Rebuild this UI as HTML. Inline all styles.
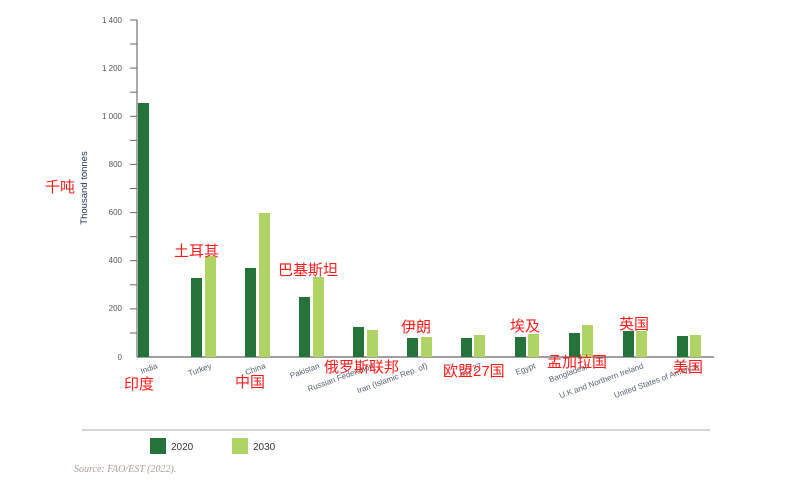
<!DOCTYPE html>
<html><head><meta charset="utf-8"><style>
body{margin:0;background:#fff}
svg{display:block}
</style></head><body>
<svg width="794" height="489" viewBox="0 0 794 489" xmlns="http://www.w3.org/2000/svg" font-family="Liberation Sans, sans-serif">
<line x1="137" y1="20" x2="137" y2="357" stroke="#555" stroke-width="1"/>
<line x1="137" y1="357" x2="714" y2="357" stroke="#666" stroke-width="1.3"/>
<g stroke="#666" stroke-width="1">
<line x1="130" y1="20" x2="137" y2="20"/><line x1="130" y1="44" x2="137" y2="44"/>
<line x1="130" y1="68.1" x2="137" y2="68.1"/><line x1="130" y1="92.2" x2="137" y2="92.2"/>
<line x1="130" y1="116.3" x2="137" y2="116.3"/><line x1="130" y1="140.4" x2="137" y2="140.4"/>
<line x1="130" y1="164.4" x2="137" y2="164.4"/><line x1="130" y1="188.5" x2="137" y2="188.5"/>
<line x1="130" y1="212.6" x2="137" y2="212.6"/><line x1="130" y1="236.7" x2="137" y2="236.7"/>
<line x1="130" y1="260.7" x2="137" y2="260.7"/><line x1="130" y1="284.8" x2="137" y2="284.8"/>
<line x1="130" y1="308.9" x2="137" y2="308.9"/><line x1="130" y1="333" x2="137" y2="333"/>
</g>
<g font-size="8" fill="#555" text-anchor="end">
<text x="122" y="23">1 400</text><text x="122" y="71">1 200</text><text x="122" y="119">1 000</text>
<text x="122" y="167">800</text><text x="122" y="215">600</text><text x="122" y="263">400</text>
<text x="122" y="311">200</text><text x="122" y="360">0</text>
</g>
<text transform="translate(87,188) rotate(-90)" font-size="9.5" fill="#1f2d4d" text-anchor="middle">Thousand tonnes</text>
<g fill="#24733a">
<rect x="138" y="103" width="11" height="254"/>
<rect x="191" y="278" width="11" height="79"/>
<rect x="245" y="268" width="11" height="89"/>
<rect x="299" y="297" width="11" height="60"/>
<rect x="353" y="327" width="11" height="30"/>
<rect x="407" y="338" width="11" height="19"/>
<rect x="461" y="338" width="11" height="19"/>
<rect x="515" y="337" width="11" height="20"/>
<rect x="569" y="333" width="11" height="24"/>
<rect x="623" y="331" width="11" height="26"/>
<rect x="677" y="336" width="11" height="21"/>
</g>
<g fill="#b0d365">
<rect x="205" y="256" width="11" height="101"/>
<rect x="259" y="213" width="11" height="144"/>
<rect x="313" y="277" width="11" height="80"/>
<rect x="367" y="330" width="11" height="27"/>
<rect x="421" y="337" width="11" height="20"/>
<rect x="474" y="335" width="11" height="22"/>
<rect x="528" y="334" width="11" height="23"/>
<rect x="582" y="325" width="11" height="32"/>
<rect x="636" y="331" width="11" height="26"/>
<rect x="690" y="335" width="11" height="22"/>
</g>
<g font-size="8" fill="#556070" text-anchor="end">
<text transform="translate(158,368) rotate(-20)">India</text>
<text transform="translate(212,368) rotate(-20)">Turkey</text>
<text transform="translate(266,368) rotate(-20)">China</text>
<text transform="translate(320,368) rotate(-20)">Pakistan</text>
<text transform="translate(374,368) rotate(-20)">Russian Federation</text>
<text transform="translate(428,368) rotate(-20)">Iran  (Islamic Rep. of)</text>
<text transform="translate(482,368) rotate(-20)">EU 27</text>
<text transform="translate(536,368) rotate(-20)">Egypt</text>
<text transform="translate(590,368) rotate(-20)">Bangladesh</text>
<text transform="translate(644,368) rotate(-20)">U.K and Northern Ireland</text>
<text transform="translate(698,368) rotate(-20)">United States of America</text>
</g>
<g font-family="Liberation Sans, Noto Sans CJK SC, sans-serif" font-size="15" fill="#ff1a1a">
<text x="45" y="192">千吨</text>
<text x="124" y="389">印度</text>
<text x="174" y="256">土耳其</text>
<text x="235" y="387">中国</text>
<text x="278" y="275">巴基斯坦</text>
<text x="324" y="372">俄罗斯联邦</text>
<text x="401" y="332">伊朗</text>
<text x="443" y="376">欧盟27国</text>
<text x="510" y="331">埃及</text>
<text x="547" y="367">孟加拉国</text>
<text x="619" y="329">英国</text>
<text x="673" y="372">美国</text>
</g>
<line x1="82" y1="430" x2="710" y2="430" stroke="#c8c8c8" stroke-width="1.5"/>
<rect x="150" y="438" width="16" height="16" fill="#24733a"/>
<text x="171" y="450" font-size="10" fill="#333">2020</text>
<rect x="232" y="438" width="16" height="16" fill="#b0d365"/>
<text x="253" y="450" font-size="10" fill="#333">2030</text>
<text x="74" y="472" font-family="Liberation Serif, serif" font-style="italic" font-size="10" fill="#b09a9a">Source: FAO/EST (2022).</text>
</svg>
</body></html>
